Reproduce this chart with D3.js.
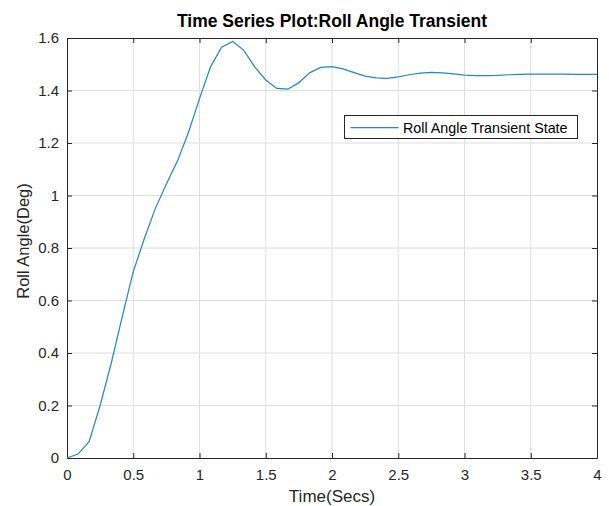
<!DOCTYPE html>
<html>
<head>
<meta charset="utf-8">
<script src="https://cdn.jsdelivr.net/npm/d3@7"></script>
<style>
  body { margin: 0; background: #fff; }
  svg { font-family: "Liberation Sans", Arial, Helvetica, sans-serif; }
</style>
</head>
<body>
<div id="chart"></div>
<script>
// sample times (step 1/12 s) and roll angle values
var times = d3.range(0, 49).map(function (k) { return k / 12; });
var rollAngle = [
  0, 0.015, 0.062, 0.20, 0.36, 0.538, 0.71, 0.835, 0.951, 1.044,
  1.131, 1.24, 1.369, 1.49, 1.565, 1.587, 1.554, 1.49, 1.44, 1.408,
  1.405, 1.43, 1.468, 1.488, 1.491, 1.482, 1.468, 1.455, 1.448, 1.446,
  1.452, 1.46, 1.466, 1.469, 1.467, 1.463, 1.459, 1.457, 1.457, 1.458,
  1.46, 1.461, 1.462, 1.462, 1.462, 1.462, 1.461, 1.461, 1.461
];
var xTicks = [0, 0.5, 1, 1.5, 2, 2.5, 3, 3.5, 4];
var yTicks = [0, 0.2, 0.4, 0.6, 0.8, 1, 1.2, 1.4, 1.6];
var seriesName = "Roll Angle Transient State";

var W = 609, H = 506;
// plot box edges (window.top is read-only, so use own names)
var boxL = 67, boxR = 597, boxT = 38, boxB = 458;
var axisColor = "#262626";
var lineColor = "#2a84c8";

var svg = d3.select("#chart").append("svg")
    .attr("width", W)
    .attr("height", H);

var x = d3.scaleLinear().domain([0, 4]).range([boxL, boxR]);
var y = d3.scaleLinear().domain([0, 1.6]).range([boxB, boxT]);

// grid
svg.append("g").selectAll("line")
    .data(xTicks.slice(1, -1))
    .enter().append("line")
    .attr("x1", function (d) { return x(d); })
    .attr("x2", function (d) { return x(d); })
    .attr("y1", boxT).attr("y2", boxB)
    .attr("stroke", "#dedede").attr("stroke-width", 1);
svg.append("g").selectAll("line")
    .data(yTicks.slice(1, -1))
    .enter().append("line")
    .attr("y1", function (d) { return y(d); })
    .attr("y2", function (d) { return y(d); })
    .attr("x1", boxL).attr("x2", boxR)
    .attr("stroke", "#dedede").attr("stroke-width", 1);

// axes (ticks inside, on all four sides)
var fmt = function (d) { return String(+d.toFixed(1)); };
var xAxis = svg.append("g")
    .attr("transform", "translate(0," + boxB + ")")
    .call(d3.axisBottom(x).tickValues(xTicks).tickSizeInner(-5).tickSizeOuter(0)
        .tickPadding(11).tickFormat(fmt));
var xTop = svg.append("g")
    .attr("transform", "translate(0," + boxT + ")")
    .call(d3.axisTop(x).tickValues(xTicks).tickSizeInner(-5).tickSizeOuter(0)
        .tickFormat(""));
var yAxis = svg.append("g")
    .attr("transform", "translate(" + boxL + ",0)")
    .call(d3.axisLeft(y).tickValues(yTicks).tickSizeInner(-5).tickSizeOuter(0)
        .tickPadding(8).tickFormat(fmt));
var yRight = svg.append("g")
    .attr("transform", "translate(" + boxR + ",0)")
    .call(d3.axisRight(y).tickValues(yTicks).tickSizeInner(-5).tickSizeOuter(0)
        .tickFormat(""));

[xAxis, xTop, yAxis, yRight].forEach(function (g) {
    g.select(".domain").attr("stroke", axisColor).attr("stroke-width", 1);
    g.selectAll(".tick line").attr("stroke", axisColor);
    g.selectAll(".tick text").attr("fill", axisColor).style("font-size", "15px");
});

// line
var line = d3.line()
    .x(function (d, i) { return x(times[i]); })
    .y(function (d) { return y(d); });

svg.append("path")
    .datum(rollAngle)
    .attr("d", line)
    .attr("fill", "none")
    .attr("stroke", lineColor)
    .attr("stroke-width", 1.25);

// title and labels
svg.append("text")
    .attr("x", (boxL + boxR) / 2).attr("y", 27)
    .attr("text-anchor", "middle")
    .attr("font-weight", "bold")
    .attr("font-size", "17.5px")
    .attr("fill", "#000")
    .text("Time Series Plot:Roll Angle Transient");

svg.append("text")
    .attr("x", (boxL + boxR) / 2).attr("y", 502)
    .attr("text-anchor", "middle")
    .attr("font-size", "17px")
    .attr("fill", axisColor)
    .text("Time(Secs)");

svg.append("text")
    .attr("transform", "translate(28.5,241) rotate(-90)")
    .attr("text-anchor", "middle")
    .attr("font-size", "16.5px")
    .attr("fill", axisColor)
    .text("Roll Angle(Deg)");

// legend
var lg = svg.append("g").attr("transform", "translate(344.5,115.5)");
lg.append("rect")
    .attr("width", 233).attr("height", 23)
    .attr("fill", "#fff")
    .attr("stroke", axisColor).attr("stroke-width", 1);
lg.append("line")
    .attr("x1", 6).attr("x2", 54).attr("y1", 12).attr("y2", 12)
    .attr("stroke", lineColor).attr("stroke-width", 1.25);
lg.append("text")
    .attr("x", 58.5).attr("y", 17)
    .attr("font-size", "14.3px")
    .attr("fill", "#000")
    .text(seriesName);
</script>
</body>
</html>
